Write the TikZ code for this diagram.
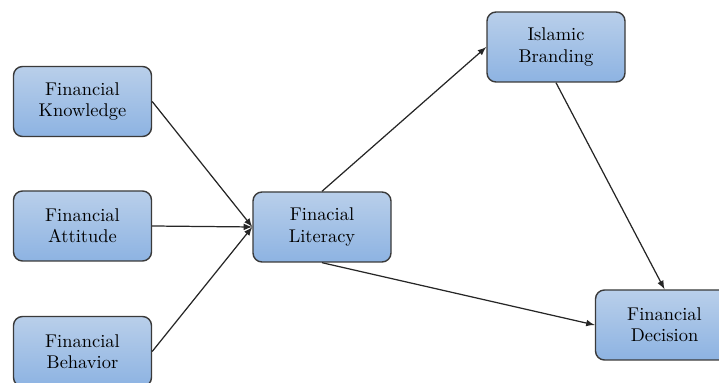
\documentclass[tikz,border=0pt]{standalone}
\usepackage{tikz}

\definecolor{boxtop}{HTML}{B9CFEA}
\definecolor{boxbot}{HTML}{8DB3E2}
\definecolor{boxline}{HTML}{3A3A3A}

\tikzset{
  varbox/.style={draw=boxline, line width=0.8pt, rounded corners=0.18cm,
    top color=boxtop, bottom color=boxbot, minimum width=2.76cm,
    minimum height=1.40cm, align=center,
    font=\fontsize{10.5}{12}\selectfont, text=black},
  link/.style={->, >=latex, line width=0.7pt, draw=black!85}
}

\begin{document}
\begin{tikzpicture}
\useasboundingbox (0,0) rectangle (14.38,7.66);

\node[varbox] (know)  at (1.65, 5.63) {Financial\\Knowledge};
        \node[varbox] (att)   at (1.65, 3.14) {Financial\\Attitude};
        \node[varbox] (beh)   at (1.65, 0.63) {Financial\\Behavior};
        \node[varbox] (lit)   at (6.44, 3.12) {Finacial\\Literacy};
        \node[varbox] (brand) at (11.12, 6.72) {Islamic\\Branding};
        \node[varbox] (dec)   at (13.29, 1.16) {Financial\\Decision};

\draw[link] (know.east) -- (lit.west);
\draw[link] (att.east) -- (lit.west);
\draw[link] (beh.east) -- (lit.west);
\draw[link] (lit.north) -- (brand.west);
\draw[link] (lit.south) -- (dec.west);
\draw[link] (brand.south) -- (dec.north);
\end{tikzpicture}
\end{document}
